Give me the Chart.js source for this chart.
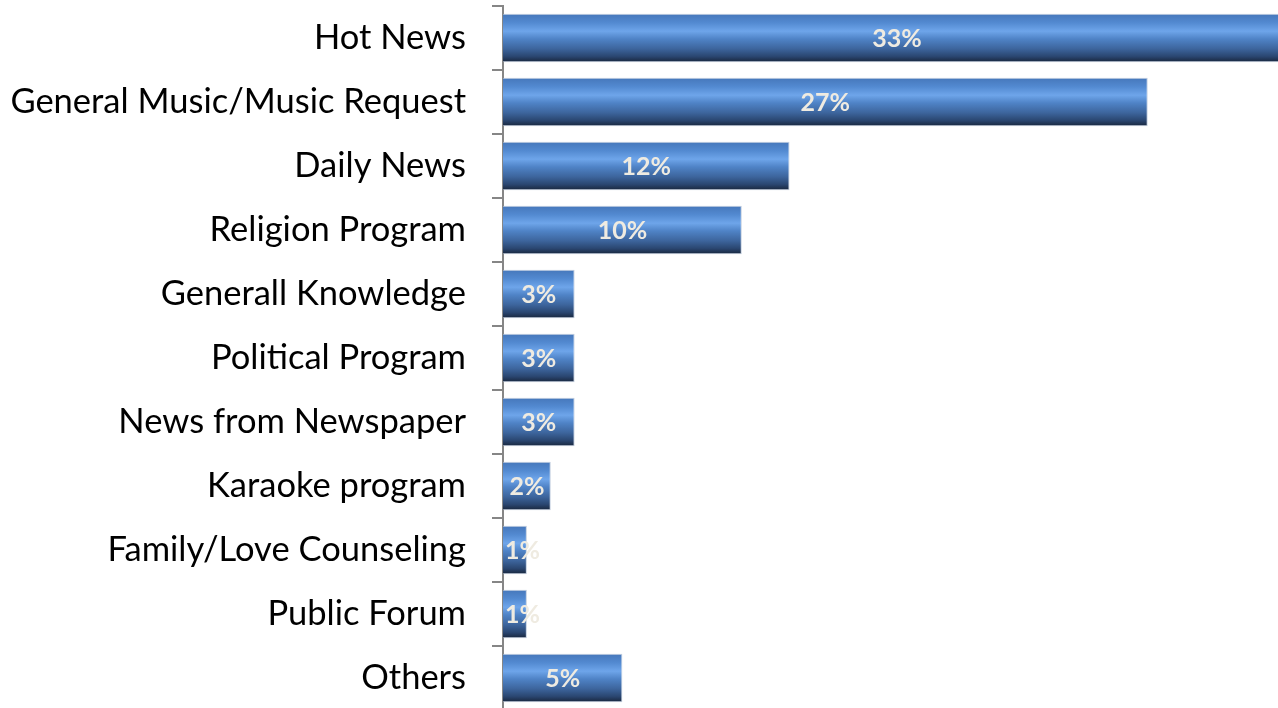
<!DOCTYPE html>
<html>
<head>
<meta charset="utf-8">
<title>Favourite radio programmes</title>
<script src="https://cdn.jsdelivr.net/npm/chart.js@4.4.1/dist/chart.umd.min.js"></script>
<style>
  html, body { margin: 0; padding: 0; background: #ffffff; overflow: hidden; }
  #wrap { position: absolute; left: 0; top: 0; width: 1300px; height: 712px; }
</style>
</head>
<body>
<div id="wrap"><canvas id="chart"></canvas></div>
<script>
// Programme categories, top to bottom
const categories = [
  'Hot News',
  'General Music/Music Request',
  'Daily News',
  'Religion Program',
  'Generall Knowledge',
  'Political Program',
  'News from Newspaper',
  'Karaoke program',
  'Family/Love Counseling',
  'Public Forum',
  'Others'
];

// Share of respondents (%)
const shares = [33, 27, 12, 10, 3, 3, 3, 2, 1, 1, 5];

const LABEL_FONT = 'Lato, "Open Sans", "Liberation Sans", sans-serif';
const BAR_PCT = 0.76;

// Vertical cylinder-like shading for every bar
function barFill(ctx) {
  const chart = ctx.chart;
  const yScale = chart.scales.y;
  if (ctx.type !== 'data' || !chart.chartArea || !yScale) return '#4f81bd';
  const cy = yScale.getPixelForValue(ctx.dataIndex);
  const band = yScale.height / categories.length;
  const half = band * BAR_PCT / 2;
  const g = chart.ctx.createLinearGradient(0, cy - half, 0, cy + half);
  g.addColorStop(0.00, '#4677ba');
  g.addColorStop(0.18, '#5289d0');
  g.addColorStop(0.36, '#6ea5ea');
  g.addColorStop(0.52, '#4f83c6');
  g.addColorStop(0.72, '#3d659d');
  g.addColorStop(0.88, '#2a4670');
  g.addColorStop(1.00, '#18253b');
  return g;
}

// Percentage text written inside each bar
const valueLabels = {
  id: 'valueLabels',
  afterDatasetsDraw(chart) {
    const c = chart.ctx;
    const meta = chart.getDatasetMeta(0);
    c.save();
    c.font = 'bold 25px ' + LABEL_FONT;
    c.fillStyle = '#efebe1';
    c.textBaseline = 'middle';
    c.textAlign = 'center';
    meta.data.forEach((bar, i) => {
      const text = shares[i] + '%';
      const w = c.measureText(text).width;
      let x = (bar.x + bar.base) / 2;
      if (x - w / 2 < bar.base + 2) x = bar.base + 2 + w / 2;
      c.fillText(text, x, bar.y + 1);
    });
    c.restore();
  }
};

new Chart(document.getElementById('chart'), {
  type: 'bar',
  data: {
    labels: categories,
    datasets: [{
      data: shares,
      backgroundColor: barFill,
      borderColor: 'rgba(190,202,220,0.95)',
      borderWidth: 1,
      borderSkipped: 'start',
      barPercentage: BAR_PCT,
      categoryPercentage: 1.0
    }]
  },
  options: {
    indexAxis: 'y',
    responsive: true,
    maintainAspectRatio: false,
    animation: false,
    layout: { padding: { top: 6, bottom: 2, left: 0, right: 9 } },
    plugins: {
      legend: { display: false },
      tooltip: { enabled: false }
    },
    scales: {
      x: {
        display: false,
        min: 0,
        max: 33
      },
      y: {
        z: 1,
        afterFit(scale) {
          scale.width = 503;
          scale.paddingTop = 0;
          scale.paddingBottom = 0;
        },
        grid: {
          offset: true,
          drawOnChartArea: false,
          drawTicks: true,
          tickLength: 11,
          color: '#868686',
          lineWidth: 2
        },
        border: { display: true, color: '#868686', width: 2 },
        ticks: {
          color: '#000000',
          padding: 26,
          font: { family: LABEL_FONT, size: 34.5 }
        }
      }
    }
  },
  plugins: [valueLabels]
});
</script>
</body>
</html>
